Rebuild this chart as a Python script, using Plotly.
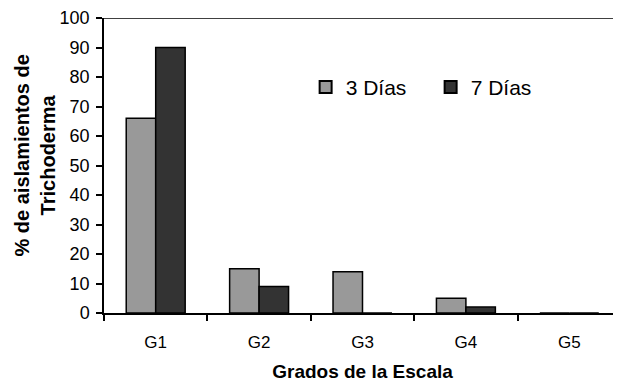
import plotly.graph_objects as go

categories = ["G1", "G2", "G3", "G4", "G5"]
dias3 = [66, 15, 14, 5, 0]
dias7 = [90, 9, 0, 2, 0]
series_names = ["3 Días", "7 Días"]
y_ticks = [0, 10, 20, 30, 40, 50, 60, 70, 80, 90, 100]

font_family = "Liberation Sans, Arial, sans-serif"

fig = go.Figure()
fig.add_trace(go.Bar(x=categories, y=dias3, name=series_names[0],
                     marker=dict(color="#999999", line=dict(color="#000000", width=1.5))))
fig.add_trace(go.Bar(x=categories, y=dias7, name=series_names[1],
                     marker=dict(color="#333333", line=dict(color="#000000", width=1.5))))

fig.update_layout(
    width=613, height=374,
    margin=dict(l=96, r=0, t=10, b=69),
    plot_bgcolor="white", paper_bgcolor="white",
    barmode="group", bargap=0.43, bargroupgap=0,
    font=dict(family=font_family, color="#000000", size=17),
    showlegend=True,
    legend=dict(orientation="h", x=0.39, y=0.765, xanchor="left", yanchor="middle",
                font=dict(size=21, family=font_family), bgcolor="rgba(0,0,0,0)",
                entrywidth=80, itemsizing="constant"),
    shapes=[dict(type="line", xref="paper", yref="y", x0=0, x1=1, y0=100, y1=100,
                 line=dict(color="#000000", width=1.5))],
    annotations=[dict(text="<b>% de aislamientos de<br>Trichoderma</b>",
                      xref="paper", yref="paper", x=0, y=0.5, xanchor="center", yanchor="middle",
                      xshift=-70, yshift=10, textangle=-90, showarrow=False,
                      font=dict(size=20, family=font_family))],
)
fig.update_xaxes(
    automargin=False,
    showline=True, linecolor="#000000", linewidth=1.5,
    ticks="outside", tickson="boundaries", ticklen=6, tickcolor="#000000", tickwidth=1.5,
    tickfont=dict(size=17), ticklabelstandoff=13,
    title=dict(text="<b>Grados de la Escala</b>", font=dict(size=19), standoff=20),
    showgrid=False,
)
fig.update_yaxes(
    automargin=False,
    range=[0, 100], tickvals=y_ticks, showline=True, linecolor="#000000", linewidth=1.5,
    ticks="outside", ticklen=6, tickcolor="#000000", tickwidth=1.5,
    tickfont=dict(size=18), ticklabelstandoff=3,
    showgrid=False, zeroline=False,
)

fig.write_html("out.html")
